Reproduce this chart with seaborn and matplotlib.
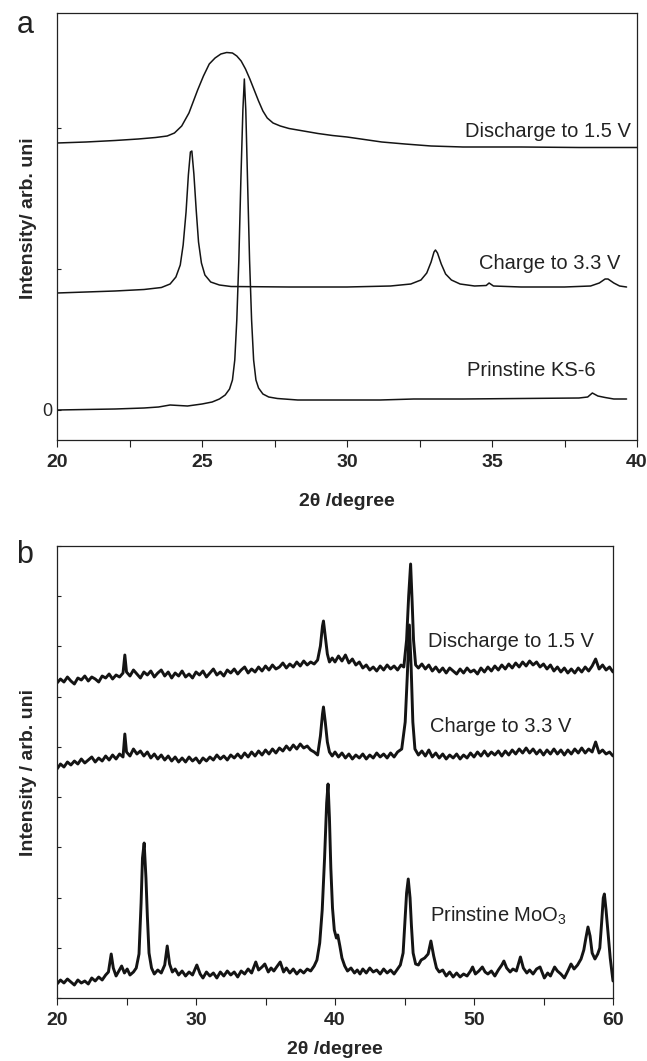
import matplotlib
matplotlib.use("Agg")
import matplotlib.pyplot as plt
import numpy as np
import seaborn as sns

# ---- panel a : KS-6 graphite (2theta 20-40), (2theta, intensity) ----
a_discharge = [(20.0, 267), (21.0, 268), (22.0, 269.5), (22.8, 271), (23.4, 272.5), (23.8, 274),
               (24.05, 277), (24.3, 284), (24.55, 297), (24.85, 320), (25.05, 334), (25.25, 346),
               (25.45, 352), (25.65, 356), (25.85, 357.5), (26.05, 357), (26.2, 354), (26.35, 349),
               (26.5, 341), (26.65, 331), (26.8, 320), (26.95, 309), (27.1, 299), (27.25, 292),
               (27.45, 287), (27.7, 284), (28.0, 281.5), (28.5, 279), (29.0, 276.5), (29.5, 274.5),
               (30.0, 273), (30.6, 270.5), (31.2, 268), (32.0, 266), (32.9, 264), (34.0, 263),
               (36.0, 263), (38.0, 262.5), (40.0, 262.5)]

a_charge = [(20.0, 117), (21.0, 118), (22.0, 119), (23.0, 120.5), (23.6, 122.5), (23.9, 126),
            (24.1, 133), (24.25, 145), (24.35, 165), (24.45, 198), (24.53, 235), (24.6, 258),
            (24.65, 259), (24.72, 236), (24.8, 200), (24.88, 168), (24.98, 147), (25.1, 135),
            (25.3, 128), (25.6, 125), (26.0, 123.5), (28.0, 123), (30.0, 123), (31.5, 124),
            (32.2, 126), (32.55, 130), (32.75, 137), (32.9, 148), (33.0, 158), (33.05, 160),
            (33.12, 157), (33.25, 146), (33.4, 136), (33.6, 130), (33.9, 126), (34.4, 124),
            (34.8, 124.5), (34.9, 127), (35.05, 124), (36.0, 123), (37.5, 123), (38.4, 124),
            (38.7, 127), (38.9, 131), (39.0, 131), (39.2, 127), (39.4, 124), (39.64, 123)]

a_pristine = [(20.0, 0), (21.0, 0.5), (22.0, 1), (23.0, 2), (23.5, 3), (23.9, 5), (24.2, 4.5),
              (24.5, 4), (25.0, 6), (25.35, 8), (25.6, 11), (25.8, 15), (25.95, 21), (26.05, 30),
              (26.13, 50), (26.2, 90), (26.27, 150), (26.34, 230), (26.41, 300), (26.46, 331),
              (26.51, 300), (26.57, 230), (26.64, 150), (26.71, 90), (26.78, 50), (26.86, 30),
              (26.95, 22), (27.1, 16), (27.3, 13), (27.6, 11.5), (28.3, 10), (30.0, 10),
              (31.14, 10), (32.3, 11), (34.0, 11), (36.0, 11.5), (38.0, 12), (38.3, 13),
              (38.46, 17), (38.65, 14), (38.9, 12.5), (39.2, 11), (39.64, 11)]

a_labels = ["Discharge to 1.5 V", "Charge to 3.3 V", "Prinstine KS-6"]
a_xticks = [20, 25, 30, 35, 40]

# ---- panel b : MoO3 (2theta 20-60), (2theta, intensity) ----
b_discharge = [
    (20.0, 315), (20.25, 319), (20.5, 316), (20.75, 321), (21.0, 317), (21.25, 314), (21.5, 320),
    (21.75, 318), (22.0, 322), (22.25, 317), (22.5, 321), (22.75, 319), (23.0, 316), (23.25, 322),
    (23.5, 320), (23.75, 324), (24.0, 319), (24.25, 323), (24.5, 321), (24.75, 325), (24.88, 343),
    (25.0, 326), (25.25, 322), (25.5, 328), (25.75, 324), (26.0, 320), (26.25, 326), (26.5, 323),
    (26.75, 327), (27.0, 321), (27.25, 325), (27.5, 328), (27.75, 322), (28.0, 326), (28.25, 320),
    (28.5, 325), (28.75, 322), (29.0, 327), (29.25, 321), (29.5, 324), (29.75, 320), (30.0, 326),
    (30.25, 323), (30.5, 327), (30.75, 321), (31.0, 325), (31.25, 329), (31.5, 323), (31.75, 326),
    (32.0, 322), (32.25, 328), (32.5, 325), (32.75, 329), (33.0, 324), (33.25, 328), (33.5, 331),
    (33.75, 325), (34.0, 329), (34.25, 326), (34.5, 331), (34.75, 327), (35.0, 332), (35.25, 328),
    (35.5, 333), (35.75, 329), (36.0, 331), (36.25, 335), (36.5, 330), (36.75, 334), (37.0, 331),
    (37.25, 336), (37.5, 332), (37.75, 337), (38.0, 333), (38.25, 336), (38.5, 334), (38.75, 338),
    (38.95, 352), (39.1, 372), (39.17, 377), (39.3, 362), (39.45, 344), (39.6, 336), (39.8, 340),
    (40.0, 336), (40.25, 342), (40.5, 337), (40.75, 343), (41.0, 335), (41.25, 339), (41.5, 333),
    (41.75, 336), (42.0, 330), (42.25, 333), (42.5, 328), (42.75, 331), (43.0, 327), (43.25, 332),
    (43.5, 328), (43.75, 333), (44.0, 329), (44.25, 332), (44.5, 328), (44.75, 333), (44.95, 331),
    (45.15, 358), (45.3, 402), (45.44, 434), (45.55, 396), (45.65, 358), (45.8, 333), (46.0, 330),
    (46.25, 334), (46.5, 329), (46.75, 333), (47.0, 327), (47.25, 331), (47.5, 326), (47.75, 330),
    (48.0, 325), (48.25, 330), (48.5, 327), (48.75, 324), (49.0, 329), (49.25, 325), (49.5, 330),
    (49.75, 326), (50.0, 328), (50.25, 324), (50.5, 330), (50.75, 326), (51.0, 331), (51.25, 327),
    (51.5, 332), (51.75, 328), (52.0, 333), (52.25, 329), (52.5, 334), (52.75, 330), (53.0, 335),
    (53.25, 331), (53.5, 336), (53.75, 332), (54.0, 337), (54.25, 333), (54.5, 336), (54.75, 331),
    (55.0, 334), (55.25, 329), (55.5, 333), (55.75, 327), (56.0, 331), (56.25, 326), (56.5, 330),
    (56.75, 325), (57.0, 329), (57.25, 325), (57.5, 330), (57.75, 326), (58.0, 331), (58.25, 327),
    (58.5, 332), (58.75, 339), (59.0, 329), (59.25, 333), (59.5, 328), (59.75, 331), (60.0, 326)]

b_charge = [
    (20.0, 229), (20.25, 234), (20.5, 231), (20.75, 236), (21.0, 233), (21.25, 237), (21.5, 234),
    (21.75, 239), (22.0, 235), (22.25, 238), (22.5, 241), (22.75, 236), (23.0, 240), (23.25, 237),
    (23.5, 242), (23.75, 238), (24.0, 243), (24.25, 239), (24.5, 244), (24.75, 241), (24.88, 264),
    (25.0, 246), (25.25, 242), (25.5, 249), (25.75, 244), (26.0, 247), (26.25, 242), (26.5, 246),
    (26.75, 240), (27.0, 244), (27.25, 239), (27.5, 243), (27.75, 238), (28.0, 242), (28.25, 237),
    (28.5, 241), (28.75, 236), (29.0, 240), (29.25, 236), (29.5, 241), (29.75, 237), (30.0, 240),
    (30.25, 235), (30.5, 240), (30.75, 237), (31.0, 241), (31.25, 238), (31.5, 243), (31.75, 239),
    (32.0, 242), (32.25, 238), (32.5, 243), (32.75, 240), (33.0, 244), (33.25, 240), (33.5, 245),
    (33.75, 241), (34.0, 246), (34.25, 242), (34.5, 247), (34.75, 243), (35.0, 248), (35.25, 244),
    (35.5, 249), (35.75, 245), (36.0, 250), (36.25, 247), (36.5, 252), (36.75, 248), (37.0, 253),
    (37.25, 249), (37.5, 254), (37.75, 250), (38.0, 252), (38.25, 248), (38.5, 246), (38.75, 243),
    (38.95, 262), (39.1, 284), (39.17, 291), (39.3, 276), (39.45, 256), (39.6, 246), (39.8, 242),
    (40.0, 246), (40.25, 241), (40.5, 245), (40.75, 240), (41.0, 244), (41.25, 239), (41.5, 243),
    (41.75, 240), (42.0, 244), (42.25, 239), (42.5, 243), (42.75, 240), (43.0, 245), (43.25, 241),
    (43.5, 244), (43.75, 240), (44.0, 245), (44.25, 241), (44.5, 246), (44.8, 249), (45.05, 276),
    (45.2, 322), (45.35, 373), (45.48, 330), (45.6, 276), (45.75, 249), (46.0, 243), (46.25, 247),
    (46.5, 242), (46.75, 248), (47.0, 241), (47.25, 245), (47.5, 240), (47.75, 244), (48.0, 239),
    (48.25, 243), (48.5, 240), (48.75, 244), (49.0, 239), (49.25, 243), (49.5, 240), (49.75, 245),
    (50.0, 241), (50.25, 246), (50.5, 242), (50.75, 247), (51.0, 242), (51.25, 246), (51.5, 243),
    (51.75, 247), (52.0, 242), (52.25, 247), (52.5, 243), (52.75, 248), (53.0, 244), (53.25, 249),
    (53.5, 245), (53.75, 250), (54.0, 245), (54.25, 249), (54.5, 244), (54.75, 248), (55.0, 243),
    (55.25, 248), (55.5, 244), (55.75, 249), (56.0, 244), (56.25, 248), (56.5, 243), (56.75, 248),
    (57.0, 244), (57.25, 249), (57.5, 245), (57.75, 250), (58.0, 245), (58.25, 249), (58.5, 246),
    (58.75, 256), (59.0, 245), (59.25, 248), (59.5, 244), (59.75, 246), (60.0, 242)]

b_pristine = [
    (20.0, 14), (20.25, 18), (20.5, 15), (20.75, 19), (21.0, 16), (21.25, 13), (21.5, 18),
    (21.75, 15), (22.0, 17), (22.25, 14), (22.5, 20), (22.75, 17), (23.0, 21), (23.25, 18),
    (23.5, 23), (23.7, 26), (23.9, 44), (24.05, 30), (24.25, 22), (24.45, 27), (24.65, 32),
    (24.85, 25), (25.05, 29), (25.25, 23), (25.5, 26), (25.7, 30), (25.9, 44), (26.05, 95),
    (26.15, 140), (26.27, 155), (26.4, 120), (26.5, 82), (26.62, 45), (26.8, 30), (27.0, 24),
    (27.25, 28), (27.5, 25), (27.75, 33), (27.93, 52), (28.1, 34), (28.3, 26), (28.5, 29),
    (28.75, 23), (29.0, 27), (29.25, 22), (29.5, 26), (29.75, 23), (30.06, 33), (30.3, 24),
    (30.5, 20), (30.75, 26), (31.0, 22), (31.25, 25), (31.5, 20), (31.75, 26), (32.0, 22),
    (32.25, 27), (32.5, 23), (32.75, 26), (33.0, 21), (33.25, 27), (33.5, 24), (33.75, 29),
    (34.0, 25), (34.3, 36), (34.5, 28), (34.75, 31), (34.95, 34), (35.2, 26), (35.4, 30),
    (35.6, 27), (35.8, 31), (36.06, 36), (36.3, 26), (36.5, 30), (36.75, 25), (37.0, 29),
    (37.25, 24), (37.5, 28), (37.75, 25), (38.0, 29), (38.25, 27), (38.5, 32), (38.7, 38),
    (38.9, 55), (39.08, 88), (39.25, 140), (39.4, 195), (39.5, 214), (39.6, 180), (39.7, 130),
    (39.82, 90), (39.95, 68), (40.1, 60), (40.2, 63), (40.35, 52), (40.5, 40), (40.7, 32),
    (40.9, 27), (41.15, 30), (41.4, 25), (41.6, 28), (41.8, 24), (42.0, 29), (42.25, 25),
    (42.5, 30), (42.75, 26), (43.0, 28), (43.25, 24), (43.5, 29), (43.75, 25), (44.0, 28),
    (44.25, 24), (44.5, 29), (44.7, 33), (44.9, 45), (45.05, 80), (45.15, 105), (45.27, 119),
    (45.4, 100), (45.5, 72), (45.62, 45), (45.8, 34), (46.0, 33), (46.2, 38), (46.45, 40),
    (46.7, 44), (46.9, 57), (47.1, 42), (47.3, 30), (47.5, 26), (47.75, 28), (48.0, 22),
    (48.25, 26), (48.5, 21), (48.75, 25), (49.0, 21), (49.25, 24), (49.5, 22), (49.75, 27),
    (49.9, 31), (50.1, 24), (50.35, 27), (50.6, 31), (50.8, 26), (51.0, 24), (51.25, 27),
    (51.5, 22), (51.75, 28), (52.0, 33), (52.15, 37), (52.35, 30), (52.6, 26), (52.8, 29),
    (53.05, 27), (53.34, 41), (53.55, 30), (53.8, 25), (54.0, 28), (54.25, 24), (54.5, 29),
    (54.75, 31), (55.06, 20), (55.3, 25), (55.5, 22), (55.8, 31), (56.0, 27), (56.25, 24),
    (56.5, 20), (56.75, 27), (56.98, 34), (57.2, 29), (57.45, 33), (57.7, 39), (57.9, 48),
    (58.05, 60), (58.2, 71), (58.35, 62), (58.5, 45), (58.7, 39), (58.9, 44), (59.05, 50),
    (59.18, 75), (59.3, 100), (59.38, 104), (59.5, 88), (59.64, 66), (59.8, 40), (60.0, 17)]

b_labels = ["Discharge to 1.5 V", "Charge to 3.3 V", "Prinstine MoO$_3$"]
b_xticks = [20, 30, 40, 50, 60]

sns.set_style("white")
plt.rcParams['font.family'] = ['Liberation Sans', 'DejaVu Sans']
plt.rcParams['mathtext.default'] = 'regular'

W, H = 647, 1061
fig = plt.figure(figsize=(W / 100, H / 100), dpi=100)
ax_a = fig.add_axes([57 / W, (H - 440) / H, 580 / W, 427 / H])
ax_b = fig.add_axes([57 / W, (H - 998) / H, 556 / W, 452 / H])

line_col = '#141414'
text_col = '#222222'


def draw(ax, pts, lw):
    xs = [p[0] for p in pts]
    ys = [p[1] for p in pts]
    sns.lineplot(x=xs, y=ys, ax=ax, color=line_col, lw=lw, estimator=None, sort=False)


def style(ax, xticks, minor, labelpad):
    for sp in ax.spines.values():
        sp.set_color('#222222')
        sp.set_linewidth(0.9)
    ax.set_xticks(xticks)
    ax.set_xticks(minor, minor=True)
    ax.set_xticklabels([str(t) for t in xticks], fontweight='bold')
    ax.tick_params(axis='x', which='both', direction='out', length=5, width=0.8,
                   color='#222222', pad=5, labelsize=14, bottom=True)
    ax.tick_params(axis='y', which='both', direction='in', length=3, width=0.8,
                   color='#222222', labelsize=13, left=True)
    ax.set_xlabel('2θ /degree', fontsize=14, fontweight='bold', labelpad=labelpad)


# panel a
for curve in (a_discharge, a_charge, a_pristine):
    draw(ax_a, curve, 1.1)
ax_a.set_xlim(20, 40)
ax_a.set_ylim(-30, 397)
style(ax_a, a_xticks, [22.5, 27.5, 32.5, 37.5], 16)
ax_a.set_yticks([0, 141, 282])
ax_a.set_yticklabels(['0', '', ''])
ax_a.set_ylabel('Intensity/ arb. uni', fontsize=14, fontweight='bold')
ax_a.yaxis.set_label_coords(-0.035, 0.52)
ax_a.text(39.8, 273, a_labels[0], ha='right', va='baseline', fontsize=14.5, color=text_col)
ax_a.text(39.43, 141, a_labels[1], ha='right', va='baseline', fontsize=14.5, color=text_col)
ax_a.text(38.57, 34, a_labels[2], ha='right', va='baseline', fontsize=14.5, color=text_col)

# panel b (noisy patterns, drawn thicker)
for curve in (b_discharge, b_charge, b_pristine):
    draw(ax_b, curve, 2.1)
ax_b.set_xlim(20, 60)
ax_b.set_ylim(0, 452)
style(ax_b, b_xticks, [25, 35, 45, 55], 9)
ax_b.set_yticks(np.linspace(0, 452, 10))
ax_b.set_yticklabels([])
ax_b.set_ylabel('Intensity / arb. uni', fontsize=14, fontweight='bold')
ax_b.yaxis.set_label_coords(-0.036, 0.5)
ax_b.text(46.7, 351, b_labels[0], ha='left', va='baseline', fontsize=14.5, color=text_col)
ax_b.text(46.8, 266, b_labels[1], ha='left', va='baseline', fontsize=14.5, color=text_col)
ax_b.text(46.8, 76, b_labels[2], ha='left', va='baseline', fontsize=14.5, color=text_col)

fig.text(25 / W, 1 - 25 / H, 'a', ha='center', va='center', fontsize=22, color=text_col)
fig.text(25 / W, 1 - 555 / H, 'b', ha='center', va='center', fontsize=22, color=text_col)

fig.savefig('out.png', dpi=100)
